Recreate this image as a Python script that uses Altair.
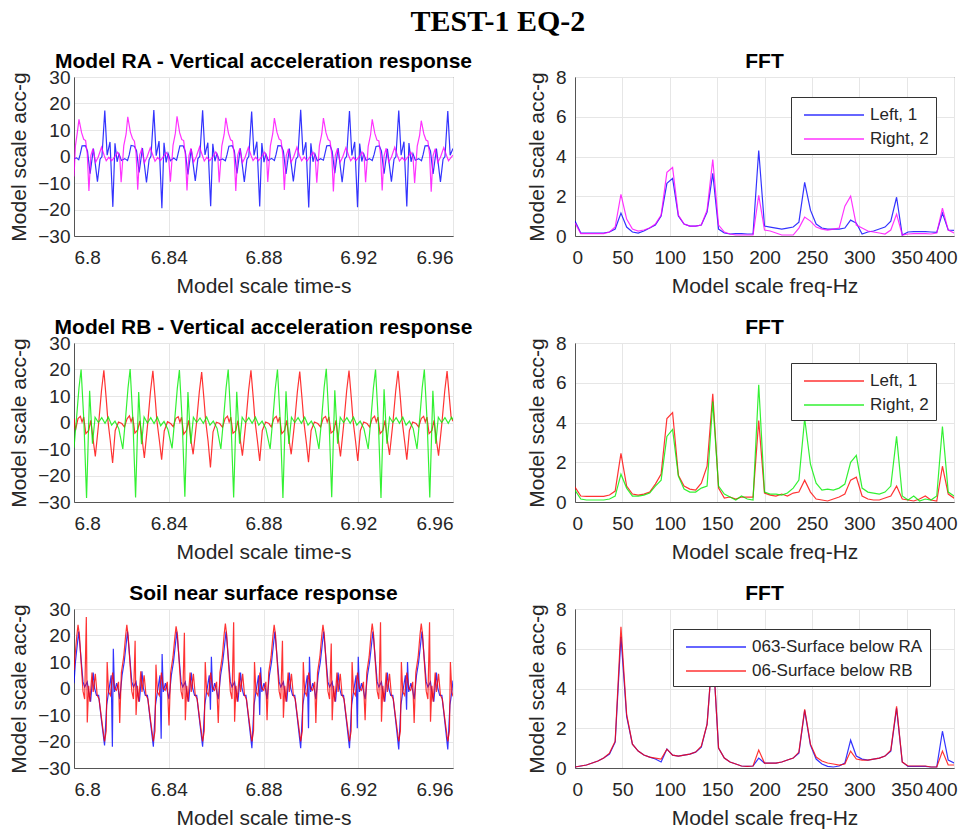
import altair as alt
import pandas as pd

FONT = "Liberation Sans"

# ---------------- time histories (ms after 6.8 s, acceleration g) ----------------
RA_LEFT_MS = [0.0, 1.0, 2.0,
    2.6, 3.4, 4.8, 5.7, 6.8, 8.2, 9.9, 11.0, 11.8, 13.0, 14.0, 15.2, 16.4, 17.3, 18.2, 19.0, 20.0, 21.4, 22.6,
    23.3, 24.1, 25.5, 26.4, 27.5, 28.9, 30.6, 31.7, 32.5, 33.7, 34.7, 35.9, 37.1, 38.0, 38.9, 39.7, 40.7, 42.1, 43.3,
    43.9, 44.7, 46.1, 47.0, 48.1, 49.5, 51.2, 52.3, 53.1, 54.3, 55.3, 56.5, 57.7, 58.6, 59.5, 60.3, 61.3, 62.7, 63.9,
    64.6, 65.4, 66.8, 67.7, 68.8, 70.2, 71.9, 73.0, 73.8, 75.0, 76.0, 77.2, 78.4, 79.3, 80.2, 81.0, 82.0, 83.4, 84.6,
    85.3, 86.1, 87.5, 88.4, 89.5, 90.9, 92.6, 93.7, 94.5, 95.7, 96.7, 97.9, 99.1, 100.0, 100.9, 101.7, 102.7, 104.1, 105.3,
    105.9, 106.7, 108.1, 109.0, 110.1, 111.5, 113.2, 114.3, 115.1, 116.3, 117.3, 118.5, 119.7, 120.6, 121.5, 122.3, 123.3, 124.7, 125.9,
    126.7, 127.5, 128.9, 129.8, 130.9, 132.3, 134.0, 135.1, 135.9, 137.1, 138.1, 139.3, 140.5, 141.4, 142.3, 143.1, 144.1, 145.5, 146.7,
    147.4, 148.2, 149.6, 150.5, 151.6, 153.0, 154.7, 155.8, 156.6, 157.8, 158.8, 160.0]
RA_LEFT_G = [-0.9, -0.5, -1.2,
    0.8, 4.0, 4.1, 2.0, -6.5, 3.0, -9.5, -1.0, 0.0, 17.3, 0.5, 5.5, -19.0, 5.0, -2.0, 1.0, -1.5, -0.8, -1.5,
    0.6, 4.2, 3.9, 2.2, -6.0, 3.2, -9.8, -1.2, 0.2, 17.5, 0.3, 5.8, -19.5, 5.2, -2.2, 1.2, -1.6, -0.6, -1.4,
    0.9, 4.0, 4.0, 1.8, -6.8, 2.8, -9.2, -0.8, 0.0, 17.4, 0.6, 5.2, -18.8, 4.8, -1.8, 1.1, -1.4, -0.9, -1.6,
    0.7, 3.9, 4.1, 2.1, -6.4, 3.1, -9.6, -1.1, 0.1, 17.0, 0.4, 5.6, -18.9, 5.1, -2.1, 0.9, -1.5, -0.7, -1.5,
    0.8, 4.1, 4.0, 2.0, -6.6, 3.0, -9.4, -1.0, 0.0, 17.6, 0.5, 5.4, -19.2, 5.0, -2.0, 1.0, -1.6, -0.8, -1.4,
    0.9, 4.0, 4.2, 1.9, -6.3, 3.2, -9.7, -0.9, 0.1, 17.2, 0.4, 5.5, -19.1, 4.9, -1.9, 1.0, -1.5, -0.8, -1.5,
    0.8, 3.8, 4.0, 2.0, -6.5, 2.9, -9.5, -1.0, 0.0, 17.3, 0.5, 5.6, -18.9, 5.1, -2.0, 1.1, -1.4, -0.8, -1.6,
    0.8, 4.0, 4.1, 2.0, -6.6, 3.0, -9.6, -1.0, 0.0, 17.2, 0.5, 3.0]

RA_RIGHT_MS = [0.0, 0.6, 1.4, 2.1, 3.2, 4.1, 4.9, 5.6, 6.3, 7.1, 8.0, 9.1, 10.2, 11.6, 12.8, 13.6, 14.7, 15.9, 17.3, 18.4, 19.3,
    19.9, 21.0, 22.0, 22.7, 23.8, 24.7, 25.5, 26.2, 26.9, 27.7, 28.6, 29.7, 30.8, 32.2, 33.4, 34.2, 35.3, 36.5, 37.9, 39.0, 39.9,
    40.7, 41.8, 42.8, 43.5, 44.6, 45.5, 46.3, 47.0, 47.7, 48.5, 49.4, 50.5, 51.6, 53.0, 54.2, 55.0, 56.1, 57.3, 58.7, 59.8, 60.7,
    61.3, 62.4, 63.4, 64.1, 65.2, 66.1, 66.9, 67.6, 68.3, 69.1, 70.0, 71.1, 72.2, 73.6, 74.8, 75.6, 76.7, 77.9, 79.3, 80.4, 81.3,
    81.8, 82.9, 83.9, 84.6, 85.7, 86.6, 87.4, 88.1, 88.8, 89.6, 90.5, 91.6, 92.7, 94.1, 95.3, 96.1, 97.2, 98.4, 99.8, 100.9, 101.8,
    102.5, 103.6, 104.6, 105.3, 106.4, 107.3, 108.1, 108.8, 109.5, 110.3, 111.2, 112.3, 113.4, 114.8, 116.0, 116.8, 117.9, 119.1, 120.5, 121.6, 122.5,
    123.1, 124.2, 125.2, 125.9, 127.0, 127.9, 128.7, 129.4, 130.1, 130.9, 131.8, 132.9, 134.0, 135.4, 136.6, 137.4, 138.5, 139.7, 141.1, 142.2, 143.1,
    143.8, 144.9, 145.9, 146.6, 147.7, 148.6, 149.4, 150.1, 150.8, 151.6, 152.5, 153.6, 154.7, 156.1, 157.3, 158.1, 159.2, 160.0]
RA_RIGHT_G = [-7.5, 4.0, 9.0, 14.0, 9.0, 6.5, 6.0, 1.0, -13.0, 0.3, 3.0, -2.2, -0.3, 3.5, 0.3, -1.6, -0.3, -1.6, 0.0, 1.6, 0.0,
    -9.7, 4.0, 8.5, 15.0, 9.2, 6.8, 5.8, 1.2, -12.5, 0.5, 2.8, -2.4, -0.3, 3.3, 0.2, -1.8, -0.4, -1.5, 0.1, 1.5, 0.0,
    -9.5, 4.2, 8.8, 15.2, 9.0, 6.4, 6.0, 0.8, -12.8, 0.2, 3.1, -2.1, -0.2, 3.6, 0.4, -1.7, -0.3, -1.6, 0.0, 1.7, 0.1,
    -9.8, 3.9, 8.4, 14.6, 8.8, 6.3, 5.9, 1.0, -13.0, 0.4, 3.0, -2.3, -0.4, 3.4, 0.3, -1.5, -0.3, -1.6, 0.0, 1.6, 0.0,
    -9.6, 4.0, 8.6, 14.5, 9.1, 6.6, 6.1, 1.1, -12.6, 0.3, 2.9, -2.2, -0.3, 3.5, 0.2, -1.6, -0.2, -1.7, 0.1, 1.6, 0.0,
    -9.9, 4.1, 8.5, 14.5, 8.9, 6.4, 5.8, 0.9, -13.2, 0.3, 3.0, -2.2, -0.3, 3.4, 0.3, -1.6, -0.3, -1.5, 0.0, 1.7, 0.0,
    -9.7, 3.8, 8.2, 14.0, 8.7, 6.2, 5.9, 1.0, -12.8, 0.2, 3.1, -2.1, -0.3, 3.5, 0.2, -1.7, -0.4, -1.6, 0.0, 1.6, 0.0,
    -10.0, 3.9, 8.0, 13.5, 8.5, 6.2, 5.8, 0.9, -13.3, 0.3, 3.0, -2.2, -0.3, 3.4, 0.3, -1.6, -0.3, 0.5]

RB_LEFT_MS = [0.0, 0.6, 1.7, 2.7, 3.4, 4.1, 5.0, 6.2, 7.1, 8.1, 9.0, 10.4, 11.6, 12.6, 13.6, 14.3, 15.3, 16.3, 17.4, 18.8, 20.2,
    21.3, 22.4, 23.4, 24.1, 24.8, 25.7, 26.9, 27.8, 28.8, 29.7, 31.1, 32.3, 33.3, 34.3, 35.0, 36.0, 37.0, 38.1, 39.5, 40.9,
    41.9, 43.0, 44.0, 44.7, 45.4, 46.3, 47.5, 48.4, 49.4, 50.3, 51.7, 52.9, 53.9, 54.9, 55.6, 56.6, 57.6, 58.7, 60.1, 61.5,
    62.7, 63.8, 64.8, 65.5, 66.2, 67.1, 68.3, 69.2, 70.2, 71.1, 72.5, 73.7, 74.7, 75.7, 76.4, 77.4, 78.4, 79.5, 80.9, 82.3,
    83.3, 84.4, 85.4, 86.1, 86.8, 87.7, 88.9, 89.8, 90.8, 91.7, 93.1, 94.3, 95.3, 96.3, 97.0, 98.0, 99.0, 100.1, 101.5, 102.9,
    104.1, 105.2, 106.2, 106.9, 107.6, 108.5, 109.7, 110.6, 111.6, 112.5, 113.9, 115.1, 116.1, 117.1, 117.8, 118.8, 119.8, 120.9, 122.3, 123.7,
    124.8, 125.9, 126.9, 127.6, 128.3, 129.2, 130.4, 131.3, 132.3, 133.2, 134.6, 135.8, 136.8, 137.8, 138.5, 139.5, 140.5, 141.6, 143.0, 144.4,
    145.5, 146.6, 147.6, 148.3, 149.0, 149.9, 151.1, 152.0, 153.0, 153.9, 155.3, 156.5, 157.5, 158.5, 159.2, 160.0]
RB_LEFT_G = [1.5, -3.0, 1.5, 2.3, 0.2, 2.0, -4.2, -3.0, 0.8, -6.7, -12.8, -0.4, 12.0, 19.7, 9.0, 0.8, -6.7, -15.3, -3.0, 0.2, -0.4,
    -1.7, 1.4, 2.5, 0.3, 2.1, -4.0, -2.8, 0.6, -6.5, -13.4, -0.5, 11.8, 19.5, 8.8, 0.6, -6.5, -14.0, -3.2, 0.3, -0.5,
    -1.6, 1.6, 2.2, 0.1, 2.0, -4.4, -3.0, 0.8, -6.8, -12.0, -0.3, 11.5, 19.0, 8.5, 0.5, -7.0, -17.0, -3.5, 0.1, -0.4,
    -1.8, 1.5, 2.4, 0.2, 2.0, -4.1, -3.1, 0.7, -6.6, -12.5, -0.4, 12.0, 19.7, 9.0, 0.8, -6.6, -14.5, -3.0, 0.2, -0.4,
    -1.7, 1.5, 2.3, 0.2, 2.0, -4.2, -3.0, 0.8, -6.7, -12.0, -0.4, 11.6, 19.2, 8.7, 0.7, -6.8, -15.0, -3.0, 0.2, -0.4,
    -1.7, 1.6, 2.3, 0.2, 2.1, -4.0, -3.0, 0.8, -6.5, -12.8, -0.4, 11.9, 19.6, 8.9, 0.8, -6.6, -14.5, -3.0, 0.2, -0.4,
    -1.7, 1.5, 2.4, 0.2, 2.0, -4.2, -3.0, 0.8, -6.7, -12.2, -0.4, 11.8, 19.5, 8.9, 0.8, -6.5, -14.0, -3.0, 0.2, -0.4,
    -1.7, 1.5, 2.3, 0.2, 2.0, -4.2, -3.0, 0.8, -6.7, -12.5, -0.4, 11.8, 19.4, 9.0, 2.0, 0.5]

RB_RIGHT_MS = [0.0, 1.1, 2.1, 3.0, 4.2, 5.3, 6.6, 7.8, 8.9, 10.3, 11.7, 13.1, 14.5, 15.9, 17.3, 18.9,
    20.6, 21.8, 22.8, 23.7, 24.9, 26.0, 27.3, 28.5, 29.6, 31.0, 32.4, 33.8, 35.2, 36.6, 38.0, 39.6,
    41.4, 42.6, 43.6, 44.5, 45.7, 46.8, 48.1, 49.3, 50.4, 51.8, 53.2, 54.6, 56.0, 57.4, 58.8, 60.4,
    62.0, 63.2, 64.2, 65.1, 66.3, 67.4, 68.7, 69.9, 71.0, 72.4, 73.8, 75.2, 76.6, 78.0, 79.4, 81.0,
    82.8, 84.0, 85.0, 85.9, 87.1, 88.2, 89.5, 90.7, 91.8, 93.2, 94.6, 96.0, 97.4, 98.8, 100.2, 101.8,
    103.4, 104.6, 105.6, 106.5, 107.7, 108.8, 110.1, 111.3, 112.4, 113.8, 115.2, 116.6, 118.0, 119.4, 120.8, 122.4,
    124.2, 125.4, 126.4, 127.3, 128.5, 129.6, 130.9, 132.1, 133.2, 134.6, 136.0, 137.4, 138.8, 140.2, 141.6, 143.2,
    144.8, 146.0, 147.0, 147.9, 149.1, 150.2, 151.5, 152.7, 153.8, 155.2, 156.6, 158.0, 159.4, 160.0]
RB_RIGHT_G = [-9.5, 2.0, 13.0, 20.0, 0.0, -28.5, 12.0, -8.0, 2.0, 0.0, 1.8, -0.3, 2.0, -1.0, 0.5, -2.3,
    -10.0, 2.0, 13.0, 20.2, 0.0, -28.3, 11.5, -8.2, 2.1, -0.2, 1.8, -0.4, 2.0, -1.2, 0.4, -2.5,
    -9.8, 2.0, 12.8, 19.8, 0.0, -28.0, 11.5, -8.0, 2.0, 0.0, 1.7, -0.3, 2.1, -1.0, 0.5, -2.2,
    -10.0, 2.0, 13.0, 20.0, 0.0, -28.3, 11.6, -8.0, 2.0, 0.0, 1.8, -0.3, 2.0, -1.0, 0.5, -2.3,
    -10.0, 2.0, 13.0, 20.0, 0.0, -28.5, 11.8, -8.1, 2.0, 0.0, 1.8, -0.3, 2.0, -1.0, 0.5, -2.3,
    -10.0, 2.0, 13.2, 20.3, 0.0, -28.2, 12.2, -8.0, 2.0, 0.0, 1.8, -0.3, 2.0, -1.0, 0.5, -2.3,
    -10.0, 2.0, 13.0, 20.0, 0.0, -28.5, 12.5, -8.0, 2.0, 0.0, 1.8, -0.3, 2.0, -1.0, 0.5, -2.3,
    -10.0, 2.0, 13.0, 20.0, 0.0, -28.3, 12.0, -8.0, 2.0, 0.0, 1.8, -0.3, 2.0, 1.0]

SOIL_RA_MS = [0.0, 0.6, 2.0, 3.1, 3.8, 4.5, 5.6, 6.3, 7.0, 7.6, 8.1, 8.7, 9.5, 10.4, 11.5, 12.9, 13.8, 14.6, 15.7, 16.2, 16.6, 17.1, 18.0, 18.7,
    19.3, 20.3, 21.2, 22.6, 23.7, 24.4, 25.1, 26.2, 26.9, 27.6, 28.2, 28.7, 29.3, 30.1, 31.0, 32.1, 33.5, 34.4, 35.2, 36.3, 36.8, 37.2, 37.7, 38.6, 39.3,
    40.1, 41.1, 42.0, 43.4, 44.5, 45.2, 45.9, 47.0, 47.7, 48.4, 49.0, 49.5, 50.1, 50.9, 51.8, 52.9, 54.3, 55.2, 56.0, 57.1, 57.6, 58.0, 58.5, 59.4, 60.1,
    60.9, 61.9, 62.8, 64.2, 65.3, 66.0, 66.7, 67.8, 68.5, 69.2, 69.8, 70.3, 70.9, 71.7, 72.6, 73.7, 75.1, 76.0, 76.8, 77.9, 78.4, 78.8, 79.3, 80.2, 80.9,
    81.5, 82.5, 83.4, 84.8, 85.9, 86.6, 87.3, 88.4, 89.1, 89.8, 90.4, 90.9, 91.5, 92.3, 93.2, 94.3, 95.7, 96.6, 97.4, 98.5, 99.0, 99.4, 99.9, 100.8, 101.5,
    102.1, 103.1, 104.0, 105.4, 106.5, 107.2, 107.9, 109.0, 109.7, 110.4, 111.0, 111.5, 112.1, 112.9, 113.8, 114.9, 116.3, 117.2, 118.0, 119.1, 119.6, 120.0, 120.5, 121.4, 122.1,
    122.9, 123.9, 124.8, 126.2, 127.3, 128.0, 128.7, 129.8, 130.5, 131.2, 131.8, 132.3, 132.9, 133.7, 134.6, 135.7, 137.1, 138.0, 138.8, 139.9, 140.4, 140.8, 141.3, 142.2, 142.9,
    143.6, 144.6, 145.5, 146.9, 148.0, 148.7, 149.4, 150.5, 151.2, 151.9, 152.5, 153.0, 153.6, 154.4, 155.3, 156.4, 157.8, 158.7, 159.5, 160.0]
SOIL_RA_G = [2.0, 10.0, 21.5, 10.0, 2.5, 0.6, 2.5, -2.0, -5.0, 1.2, 6.0, 0.0, -2.6, -2.6, -11.3, -21.5, -6.3, -1.3, 5.0, -22.0, 15.0, -1.3, 2.0, -0.5,
    -4.0, 5.0, 10.0, 21.5, 10.0, 2.5, 0.6, 2.5, -2.0, -5.0, 1.2, 6.5, 0.0, -2.6, -2.6, -11.3, -22.0, -6.3, -1.3, 5.0, -19.0, 13.0, -1.3, 2.0, -0.5,
    -4.0, 5.0, 10.0, 21.5, 10.0, 2.5, 0.6, 2.5, -2.0, -5.0, 1.2, 6.0, 0.0, -2.6, -2.6, -11.3, -22.0, -6.3, -1.3, 5.0, -8.0, 12.0, -1.3, 2.0, -0.5,
    -4.0, 5.0, 10.0, 21.5, 10.0, 2.5, 0.6, 2.5, -2.0, -5.0, 1.2, 6.0, 0.0, -2.6, -2.6, -11.3, -22.5, -6.3, -1.3, 5.0, -10.0, 8.0, -1.3, 2.0, -0.5,
    -4.0, 5.0, 10.0, 21.5, 10.0, 2.5, 0.6, 2.5, -2.0, -5.0, 1.2, 6.0, 0.0, -2.6, -2.6, -11.3, -22.5, -6.3, -1.3, 5.0, -15.0, 12.0, -1.3, 2.0, -0.5,
    -4.0, 5.0, 10.0, 21.5, 10.0, 2.5, 0.6, 2.5, -2.0, -5.0, 1.2, 6.0, 0.0, -2.6, -2.6, -11.3, -22.5, -6.3, -1.3, 5.0, -15.0, 12.0, -1.3, 2.0, -0.5,
    -4.0, 5.0, 10.0, 21.5, 10.0, 2.5, 0.6, 2.5, -2.0, -5.0, 1.2, 6.0, 0.0, -2.6, -2.6, -11.3, -23.0, -6.3, -1.3, 5.0, -8.0, 10.0, -1.3, 2.0, -0.5,
    -4.0, 5.0, 10.0, 21.5, 10.0, 2.5, 0.6, 2.5, -2.0, -5.0, 1.2, 6.0, 0.0, -2.6, -2.6, -11.3, -23.0, -6.3, -1.3, 3.0]

SOIL_RB_MS = [0.0, 0.4, 1.2, 1.7, 2.3, 3.0, 3.8, 4.5, 5.2, 5.6, 6.2, 6.7, 7.6, 8.1, 9.0, 9.8, 10.6, 11.8, 12.9, 13.6, 14.0, 14.6, 15.4, 16.3, 17.1, 17.9, 18.8,
    19.3, 20.0, 21.0, 21.8, 22.3, 22.9, 23.6, 24.4, 25.1, 25.8, 26.2, 26.8, 27.3, 28.2, 28.7, 29.6, 30.4, 31.2, 32.4, 33.5, 34.2, 34.6, 35.2, 36.0, 36.9, 37.7, 38.5, 39.4,
    40.1, 40.8, 41.8, 42.6, 43.1, 43.7, 44.4, 45.2, 45.9, 46.6, 47.0, 47.6, 48.1, 49.0, 49.5, 50.4, 51.2, 52.0, 53.2, 54.3, 55.0, 55.4, 56.0, 56.8, 57.7, 58.5, 59.3, 60.2,
    60.9, 61.6, 62.6, 63.4, 63.9, 64.5, 65.2, 66.0, 66.7, 67.4, 67.8, 68.4, 68.9, 69.8, 70.3, 71.2, 72.0, 72.8, 74.0, 75.1, 75.8, 76.2, 76.8, 77.6, 78.5, 79.3, 80.1, 81.0,
    81.5, 82.2, 83.2, 84.0, 84.5, 85.1, 85.8, 86.6, 87.3, 88.0, 88.4, 89.0, 89.5, 90.4, 90.9, 91.8, 92.6, 93.4, 94.6, 95.7, 96.4, 96.8, 97.4, 98.2, 99.1, 99.9, 100.7, 101.6,
    102.1, 102.8, 103.8, 104.6, 105.1, 105.7, 106.4, 107.2, 107.9, 108.6, 109.0, 109.6, 110.1, 111.0, 111.5, 112.4, 113.2, 114.0, 115.2, 116.3, 117.0, 117.4, 118.0, 118.8, 119.7, 120.5, 121.3, 122.2,
    122.9, 123.6, 124.6, 125.4, 125.9, 126.5, 127.2, 128.0, 128.7, 129.4, 129.8, 130.4, 130.9, 131.8, 132.3, 133.2, 134.0, 134.8, 136.0, 137.1, 137.8, 138.2, 138.8, 139.6, 140.5, 141.3, 142.1, 143.0,
    143.6, 144.3, 145.3, 146.1, 146.6, 147.2, 147.9, 148.7, 149.4, 150.1, 150.5, 151.1, 151.6, 152.5, 153.0, 153.9, 154.7, 155.5, 156.7, 157.8, 158.5, 158.9, 159.5, 160.0]
SOIL_RB_G = [7.0, 12.0, 20.0, 24.0, 20.0, 10.0, -1.0, -4.0, 27.0, -12.8, 1.0, -5.0, 6.0, -1.3, 5.5, -2.6, -4.0, -12.6, -20.0, -16.0, 10.0, -1.3, -2.6, 6.0, 0.0, -0.7, 2.5,
    -13.0, 6.0, 12.0, 20.0, 24.0, 19.5, 10.0, -1.0, -4.0, 18.0, -10.0, 1.0, -5.0, 6.5, -1.3, 5.0, -2.6, -4.0, -12.6, -20.0, -16.0, 9.0, -1.3, -2.6, 6.0, 0.0, -0.7, 2.5,
    -14.0, 6.0, 12.0, 19.5, 23.5, 20.0, 10.0, -1.0, -4.0, 21.0, -12.0, 1.0, -5.0, 6.0, -1.3, 5.5, -2.6, -4.0, -12.6, -20.0, -16.0, 10.0, -1.3, -2.6, 6.0, 0.0, -0.7, 2.5,
    -13.0, 6.0, 12.0, 20.5, 24.5, 20.0, 10.0, -1.0, -4.0, 25.0, -12.5, 1.0, -5.0, 6.0, -1.3, 5.5, -2.6, -4.0, -12.6, -20.0, -16.0, 10.0, -1.3, -2.6, 6.0, 0.0, -0.7, 2.5,
    -12.0, 6.0, 12.0, 20.0, 24.0, 20.0, 10.0, -1.0, -4.0, 18.0, -11.0, 1.0, -5.0, 6.0, -1.3, 5.5, -2.6, -4.0, -12.6, -20.0, -16.0, 10.0, -1.3, -2.6, 6.0, 0.0, -0.7, 2.5,
    -13.0, 6.0, 12.0, 20.0, 24.0, 20.0, 10.0, -1.0, -4.0, 17.0, -12.0, 1.0, -5.0, 6.0, -1.3, 5.5, -2.6, -4.0, -12.6, -20.0, -16.0, 10.0, -1.3, -2.6, 6.0, 0.0, -0.7, 2.5,
    -12.0, 6.0, 12.0, 20.5, 24.5, 20.0, 10.0, -1.0, -4.0, 25.0, -12.5, 1.0, -5.0, 6.0, -1.3, 5.5, -2.6, -4.0, -12.6, -20.0, -16.0, 10.0, -1.3, -2.6, 6.0, 0.0, -0.7, 2.5,
    -13.0, 6.0, 12.0, 20.5, 24.5, 20.0, 10.0, -1.0, -4.0, 25.0, -12.5, 1.0, -5.0, 6.0, -1.3, 5.5, -2.6, -4.0, -12.6, -20.0, -16.0, 10.0, -1.3, -3.0]

# ---------------- FFT spectra (Hz, acceleration g) ----------------
FREQ = [0.0, 6.1, 12.1, 18.2, 24.2, 30.3, 36.4, 42.4, 48.5, 54.5,
        60.6, 66.7, 72.7, 78.8, 84.8, 90.9, 97.0, 103.0, 109.1, 115.1,
        121.2, 127.3, 133.3, 139.4, 145.4, 151.5, 157.6, 163.6, 169.7, 175.7,
        181.8, 187.9, 193.9, 200.0, 206.0, 212.1, 218.2, 224.2, 230.3, 236.3,
        242.4, 248.5, 254.5, 260.6, 266.6, 272.7, 278.8, 284.8, 290.9, 296.9,
        303.0, 309.1, 315.1, 321.2, 327.2, 333.3, 339.4, 345.4, 351.5, 357.5,
        363.6, 369.7, 375.7, 381.8, 387.8, 393.9, 400.0, 406.0]
FFT_RA_LEFT = [0.75, 0.15, 0.15, 0.15, 0.15, 0.15, 0.2, 0.35, 1.15, 0.45,
               0.2, 0.15, 0.25, 0.4, 0.55, 1.0, 2.65, 2.9, 1.0, 0.6,
               0.5, 0.5, 0.55, 1.2, 3.15, 0.35, 0.15, 0.1, 0.12, 0.12,
               0.1, 0.1, 4.3, 0.5, 0.45, 0.4, 0.35, 0.4, 0.45, 0.7,
               2.7, 1.3, 0.6, 0.4, 0.35, 0.35, 0.35, 0.4, 0.8, 0.65,
               0.1, 0.2, 0.25, 0.35, 0.45, 0.75, 1.95, 0.05, 0.2, 0.22,
               0.22, 0.22, 0.2, 0.18, 1.15, 0.3, 0.28, 0.25]
FFT_RA_RIGHT = [0.65, 0.12, 0.12, 0.12, 0.12, 0.12, 0.2, 0.45, 2.1, 0.85,
                0.35, 0.25, 0.3, 0.4, 0.6, 1.05, 3.2, 3.45, 1.05, 0.6,
                0.5, 0.5, 0.55, 1.3, 3.85, 0.55, 0.2, 0.1, 0.05, 0.05,
                0.05, 0.05, 2.05, 0.3, 0.25, 0.15, 0.05, 0.05, 0.05, 0.4,
                0.95, 0.75, 0.45, 0.35, 0.3, 0.35, 0.4, 1.5, 2.0, 0.55,
                0.4, 0.25, 0.2, 0.15, 0.1, 0.3, 1.1, 0.05, 0.1, 0.12,
                0.12, 0.12, 0.1, 0.15, 1.4, 0.3, 0.15, 0.1]
FFT_RB_LEFT = [0.75, 0.3, 0.28, 0.28, 0.28, 0.28, 0.35, 0.55, 2.45, 0.8,
               0.4, 0.35, 0.4, 0.5, 0.9, 1.4, 4.2, 4.5, 1.35, 0.8,
               0.65, 0.6, 0.95, 1.8, 5.45, 0.7, 0.2, 0.25, 0.15, 0.25,
               0.25, 0.25, 4.1, 0.45, 0.35, 0.3, 0.4, 0.3, 0.45, 0.5,
               1.1, 0.5, 0.15, 0.1, 0.05, 0.15, 0.25, 0.4, 1.1, 1.25,
               0.3, 0.15, 0.1, 0.1, 0.2, 0.3, 0.8, 0.15, 0.1, 0.05,
               0.15, 0.3, 0.1, 0.05, 1.8, 0.4, 0.2, 0.2]
FFT_RB_RIGHT = [0.6, 0.15, 0.1, 0.1, 0.1, 0.1, 0.15, 0.3, 1.4, 0.7,
                0.3, 0.3, 0.35, 0.45, 0.8, 1.1, 3.3, 3.65, 1.3, 0.65,
                0.5, 0.5, 0.7, 0.8, 5.05, 0.8, 0.4, 0.25, 0.1, 0.3,
                0.15, 0.1, 5.9, 0.5, 0.4, 0.4, 0.35, 0.45, 0.7, 1.1,
                4.2, 1.9, 0.95, 0.6, 0.65, 0.6, 0.7, 0.9, 2.0, 2.35,
                0.7, 0.5, 0.45, 0.4, 0.5, 0.8, 3.3, 0.3, 0.1, 0.3,
                0.05, 0.15, 0.1, 0.3, 3.8, 0.5, 0.3, 0.25]
FFT_SOIL_RA = [0.05, 0.1, 0.15, 0.25, 0.35, 0.5, 0.7, 1.3, 6.6, 2.6,
               1.2, 0.85, 0.65, 0.55, 0.45, 0.3, 0.95, 0.65, 0.6, 0.65,
               0.7, 0.8, 1.05, 2.2, 6.0, 1.0, 0.5, 0.3, 0.2, 0.1,
               0.08, 0.1, 0.5, 0.25, 0.25, 0.25, 0.3, 0.4, 0.5, 0.75,
               2.9, 1.15, 0.45, 0.2, 0.08, 0.05, 0.1, 0.25, 1.4, 0.6,
               0.45, 0.4, 0.45, 0.5, 0.6, 0.85, 3.0, 0.3, 0.08, 0.08,
               0.08, 0.08, 0.05, 0.05, 1.85, 0.4, 0.25, 0.2]
FFT_SOIL_RB = [0.05, 0.1, 0.15, 0.25, 0.35, 0.5, 0.75, 1.35, 7.1, 2.7,
               1.2, 0.85, 0.65, 0.55, 0.5, 0.45, 0.95, 0.65, 0.6, 0.65,
               0.7, 0.8, 1.1, 2.2, 6.0, 1.0, 0.5, 0.3, 0.2, 0.1,
               0.08, 0.1, 0.9, 0.25, 0.25, 0.25, 0.3, 0.4, 0.5, 0.8,
               2.95, 1.2, 0.55, 0.35, 0.25, 0.2, 0.15, 0.2, 0.85, 0.45,
               0.4, 0.4, 0.45, 0.5, 0.6, 0.9, 3.1, 0.3, 0.1, 0.1,
               0.1, 0.1, 0.05, 0.05, 0.85, 0.15, 0.15, 0.1]

TIME_TICKS = [6.8, 6.84, 6.88, 6.92, 6.96]
ACC_TICKS = [-30, -20, -10, 0, 10, 20, 30]
FREQ_TICKS = [0, 50, 100, 150, 200, 250, 300, 350, 400]
AMP_TICKS = [0, 2, 4, 6, 8]

BLUE, MAGENTA, RED, GREEN = "#0000ff", "#ff00ff", "#ff0000", "#00ee00"
W, H = 379, 159


def time_df(series):
    rows = []
    for name, ms, g in series:
        assert len(ms) == len(g), name
        for i, (m, v) in enumerate(zip(ms, g)):
            rows.append({"t": round(6.8 + m / 1000.0, 5), "a": v, "s": name, "i": i})
    return pd.DataFrame(rows)


def fft_df(series):
    rows = []
    for name, g in series:
        assert len(g) == len(FREQ), name
        for i, (f, v) in enumerate(zip(FREQ, g)):
            rows.append({"f": f, "a": v, "s": name, "i": i})
    return pd.DataFrame(rows)


def ptitle(text):
    return alt.TitleParams(text, font=FONT, fontSize=21, fontWeight="bold", color="#000000",
                           anchor="middle", offset=-4)


def time_panel(series, names, colors, title):
    return alt.Chart(time_df(series)).mark_line(strokeWidth=1.2, opacity=0.8, clip=True).encode(
        x=alt.X("t:Q", scale=alt.Scale(domain=[6.8, 6.96], nice=False, zero=False),
                axis=alt.Axis(values=TIME_TICKS, format="~g", title="Model scale time-s", labelPadding=12)),
        y=alt.Y("a:Q", scale=alt.Scale(domain=[-30, 30], nice=False),
                axis=alt.Axis(values=ACC_TICKS, title="Model scale acc-g", labelPadding=4)),
        color=alt.Color("s:N", scale=alt.Scale(domain=names, range=colors), legend=None),
        order="i:Q",
    ).properties(width=W, height=H, title=ptitle(title))


def fft_panel(series, names, colors, lx):
    return alt.Chart(fft_df(series)).mark_line(strokeWidth=1.2, opacity=0.8, clip=True).encode(
        x=alt.X("f:Q", scale=alt.Scale(domain=[0, 400], nice=False),
                axis=alt.Axis(values=FREQ_TICKS, title="Model scale freq-Hz", labelPadding=12,
                              labelFlush=True, labelFlushOffset=3)),
        y=alt.Y("a:Q", scale=alt.Scale(domain=[0, 8], nice=False),
                axis=alt.Axis(values=AMP_TICKS, title="Model scale acc-g", labelPadding=9)),
        color=alt.Color("s:N", scale=alt.Scale(domain=names, range=colors),
                        legend=alt.Legend(orient="none", legendX=lx, legendY=20, title=None,
                                          fillColor="white", strokeColor="#333333", padding=7,
                                          labelFont=FONT, labelFontSize=17, labelColor="#262626",
                                          labelLimit=400, symbolType="M-0.5,0H5.5", symbolSize=400,
                                          symbolStrokeWidth=1.5, labelOffset=50, rowPadding=5)),
        order="i:Q",
    ).properties(width=W, height=H, title=ptitle("FFT"))


p1 = time_panel([("Left, 1", RA_LEFT_MS, RA_LEFT_G), ("Right, 2", RA_RIGHT_MS, RA_RIGHT_G)],
                ["Left, 1", "Right, 2"], [BLUE, MAGENTA], "Model RA - Vertical acceleration response")
p2 = fft_panel([("Left, 1", FFT_RA_LEFT), ("Right, 2", FFT_RA_RIGHT)],
               ["Left, 1", "Right, 2"], [BLUE, MAGENTA], 216)
p3 = time_panel([("Left, 1", RB_LEFT_MS, RB_LEFT_G), ("Right, 2", RB_RIGHT_MS, RB_RIGHT_G)],
                ["Left, 1", "Right, 2"], [RED, GREEN], "Model RB - Vertical acceleration response")
p4 = fft_panel([("Left, 1", FFT_RB_LEFT), ("Right, 2", FFT_RB_RIGHT)],
               ["Left, 1", "Right, 2"], [RED, GREEN], 216)
p5 = time_panel([("063-Surface below RA", SOIL_RA_MS, SOIL_RA_G), ("06-Surface below RB", SOIL_RB_MS, SOIL_RB_G)],
                ["063-Surface below RA", "06-Surface below RB"], [BLUE, RED], "Soil near surface response")
p6 = fft_panel([("063-Surface below RA", FFT_SOIL_RA), ("06-Surface below RB", FFT_SOIL_RB)],
               ["063-Surface below RA", "06-Surface below RB"], [BLUE, RED], 98)

chart = alt.concat(p1, p2, p3, p4, p5, p6, columns=2, spacing={"row": 19, "column": 52}).resolve_scale(
    color="independent"
).properties(
    title=alt.TitleParams("TEST-1 EQ-2", font="Liberation Serif", fontSize=30, fontWeight="bold",
                          color="#000000", anchor="middle", offset=14, dx=15),
    padding={"left": 8, "top": 6, "right": 2, "bottom": 0},
).configure(font=FONT).configure_axis(
    labelFont=FONT, labelFontSize=19, labelColor="#262626",
    titleFont=FONT, titleFontSize=21, titleFontWeight="normal", titleColor="#262626",
    grid=True, gridColor="#e6e6e6", gridWidth=1, domainColor="#555555", ticks=False,
    titlePadding=8,
).configure_view(stroke="#555555", strokeWidth=1).configure_legend(
    labelFont=FONT
)

chart.save("out.html", embed_options={"renderer": "svg", "actions": False})
